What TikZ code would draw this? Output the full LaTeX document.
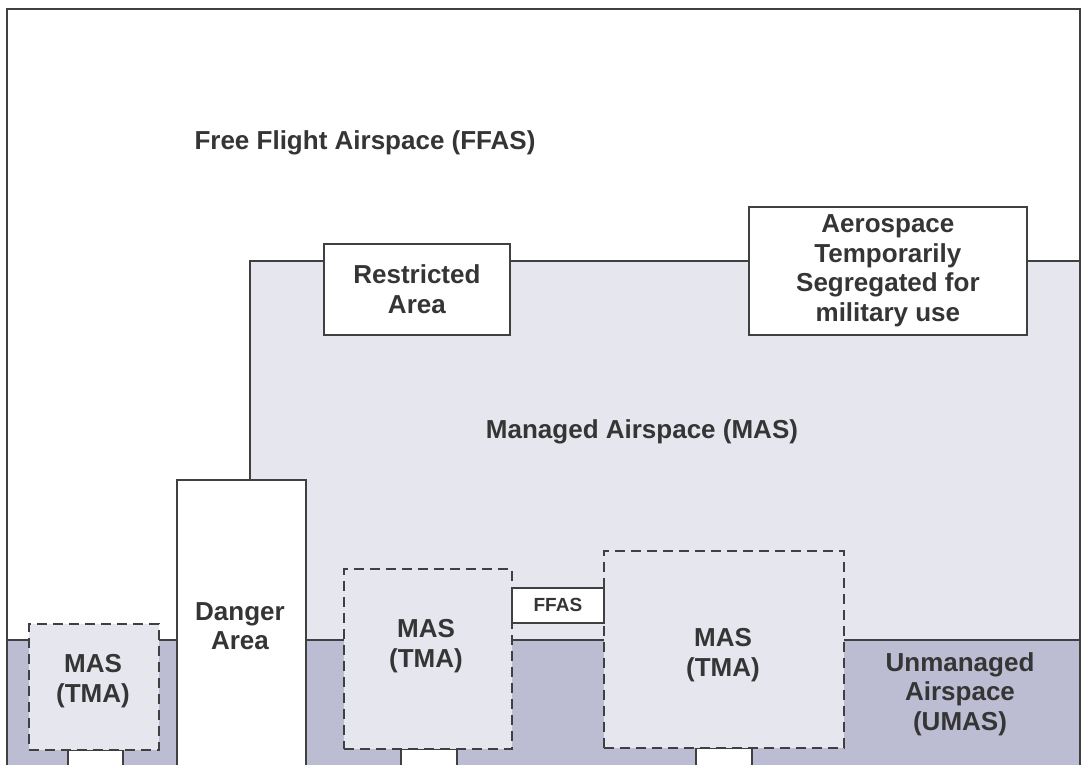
\documentclass[tikz,border=0pt]{standalone}
\usepackage{fontspec}
\setmainfont{Liberation Sans}
\definecolor{masfill}{HTML}{E6E6EF}
\definecolor{umasfill}{HTML}{BCBCD2}
\definecolor{ink}{HTML}{404040}
\definecolor{txt}{HTML}{353535}
\begin{document}
\begin{tikzpicture}[x=1bp,y=-1bp,
  line width=1.8bp,
  solidbox/.style={draw=ink, fill=white, inner sep=0pt, anchor=north west},
  tmabox/.style={draw=ink, fill=masfill, dash pattern=on 10bp off 6bp, inner sep=0pt, anchor=north west},
  label/.style={text=txt, font=\fontsize{26bp}{29.5bp}\selectfont\bfseries, align=center, inner sep=0pt}
]
\clip (0,0) rectangle (1083,765);
\fill[white] (0,0) rectangle (1083,765);
% managed airspace and unmanaged band
\fill[masfill] (250,261) rectangle (1080,780);
\fill[umasfill] (7,640) rectangle (1080,780);
\coordinate (masbl) at (250,479);
\coordinate (mastl) at (250,261);
\coordinate (mastr) at (1080,261);
\coordinate (umasl) at (7,640);
\coordinate (umasr) at (1080,640);
\draw[ink] (masbl) -- (mastl) -- (mastr);
\draw[ink] (umasl) -- (umasr);
% outer frame
\coordinate (fbl) at (7,790);
\coordinate (ftl) at (7,9);
\coordinate (ftr) at (1080,9);
\coordinate (fbr) at (1080,790);
\draw[ink] (fbl) -- (ftl) -- (ftr) -- (fbr);
% small boxes below TMAs
\node[solidbox, minimum width=55bp, minimum height=40bp] (s1) at (67,749) {};
\node[solidbox, minimum width=56bp, minimum height=40bp] (s2) at (400,748) {};
\node[solidbox, minimum width=56bp, minimum height=40bp] (s3) at (695,747) {};
% TMA boxes
\node[tmabox, minimum width=130bp, minimum height=126bp] (t1) at (28,623) {};
\node[tmabox, minimum width=168bp, minimum height=180bp] (t2) at (343,568) {};
\node[tmabox, minimum width=240bp, minimum height=197bp] (t3) at (603,550) {};
% FFAS box
\node[solidbox, minimum width=92bp, minimum height=35bp] (ffas) at (511,587) {};
% danger area
\node[solidbox, minimum width=129bp, minimum height=320bp] (danger) at (176,479) {};
% restricted and segregated
\node[solidbox, minimum width=186bp, minimum height=91bp] (restr) at (323,243) {};
\node[solidbox, minimum width=278bp, minimum height=128bp] (tsa) at (748,206) {};
% labels
\node[label] (lffas) at (365,143) {Free Flight Airspace (FFAS)};
\node[label] at (restr.center) {Restricted\\Area};
\node[label] at (tsa.center) {Aerospace\\Temporarily\\Segregated for\\military use};
\node[label] (lmas) at (642,432) {Managed Airspace (MAS)};
\node[label] at (240,626) {Danger\\Area};
\node[label] at (ffas.center) {\fontsize{19bp}{22bp}\selectfont FFAS};
\node[label] at (93,681) {MAS\\(TMA)};
\node[label] at (426,646) {MAS\\(TMA)};
\node[label] at (723,655) {MAS\\(TMA)};
\node[label] at (960,694) {Unmanaged\\Airspace\\(UMAS)};
\end{tikzpicture}
\end{document}
